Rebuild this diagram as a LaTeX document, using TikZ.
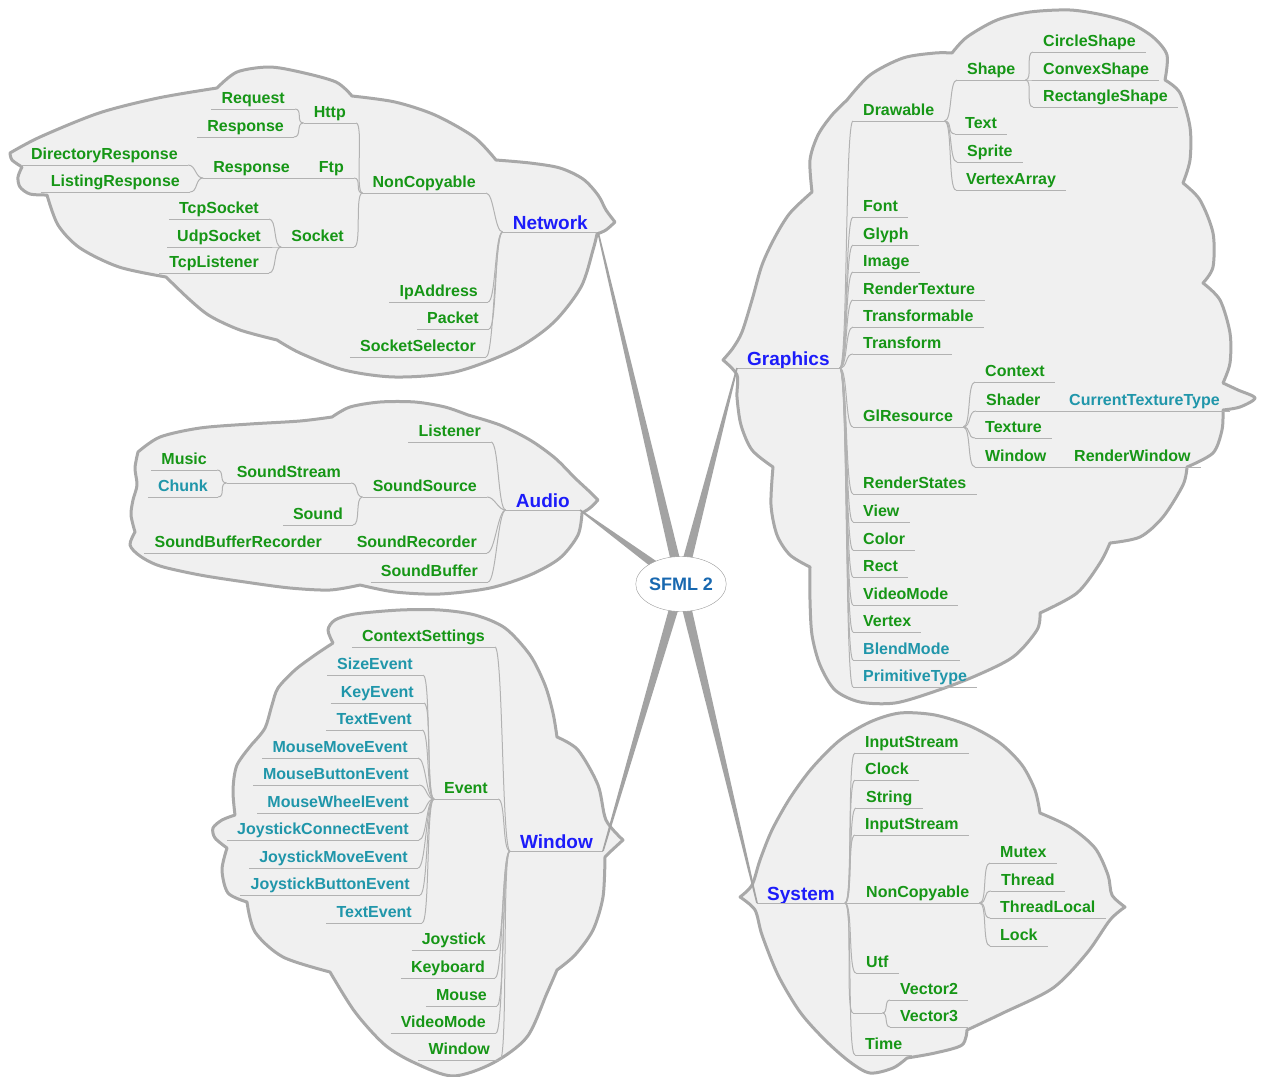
\documentclass[tikz,border=0pt]{standalone}
\usepackage{fontspec}
\setmainfont{Liberation Sans}
\usetikzlibrary{calc,shapes.geometric}

\definecolor{leafgreen}{RGB}{22,150,22}
\definecolor{leafteal}{RGB}{32,150,170}
\definecolor{headblue}{RGB}{28,28,250}
\definecolor{rootblue}{RGB}{24,104,176}
\definecolor{cloudfill}{RGB}{240,240,240}
\definecolor{cloudline}{RGB}{168,168,168}
\definecolor{linkgray}{RGB}{178,178,178}

\tikzset{
  cloud/.style={fill=cloudfill, draw=cloudline, line width=3pt, line join=round},
  link/.style={draw=linkgray, line width=1pt},
  spoke/.style={fill=black!36},
  leaf/.style={text=leafgreen, font=\bfseries\fontsize{16}{18}\selectfont,
    inner xsep=10pt, inner ysep=2pt, text height=11pt, text depth=3pt,
    append after command={(\tikzlastnode.south west) edge[link] (\tikzlastnode.south east)}},
  evt/.style={leaf, text=leafteal},
  head/.style={leaf, text=headblue, font=\bfseries\fontsize{19}{22}\selectfont,
    text height=14pt, text depth=0pt},
  lft/.style={anchor=south east},
  rgt/.style={anchor=south west},
}

\begin{document}
\begin{tikzpicture}[x=1pt,y=-1pt]
\useasboundingbox (0,0) rectangle (1262,1077);

% clouds
\filldraw[cloud] plot[smooth] coordinates {(10,153) (40,137) (99,113) (158,98) (217,88)}
  -- plot[smooth] coordinates {(217,88) (237,72) (269,67) (300,72) (336,82) (352,96)}
  -- plot[smooth] coordinates {(352,96) (395,102) (435,115) (474,137) (496,160)}
  -- plot[smooth] coordinates {(496,160) (530,163) (560,168) (583,179) (598,195) (606,210) (615,222)}
  -- plot[smooth] coordinates {(615,222) (606,230) (597,234)}
  -- plot[smooth] coordinates {(597,234) (593,250) (581,287) (553,323) (514,350) (455,372) (395,377) (344,370) (300,353) (277,340)}
  -- plot[smooth] coordinates {(277,340) (240,330) (210,316) (190,300) (166,277)}
  -- plot[smooth] coordinates {(166,277) (119,267) (80,248) (58,225) (47,195)}
  -- plot[smooth] coordinates {(47,195) (30,194) (20,187) (18,177) (22,167)}
  -- plot[smooth] coordinates {(22,167) (12,160) (10,153)} -- cycle;
\filldraw[cloud] plot[smooth] coordinates {(138,452) (160,437) (200,428) (250,424) (300,421) (332,417)}
  -- plot[smooth] coordinates {(332,417) (350,407) (380,402) (415,402) (445,407) (468,415)}
  -- plot[smooth] coordinates {(468,415) (500,425) (530,440) (555,458) (575,478) (590,492) (598,500)}
  -- plot[smooth] coordinates {(598,500) (590,508) (582,513)}
  -- plot[smooth] coordinates {(582,513) (578,535) (560,558) (530,575) (490,588) (440,594) (395,592) (360,585)}
  -- plot[smooth] coordinates {(360,585) (330,590) (290,588) (245,582) (200,575) (160,566) (140,556) (130,545) (135,532)}
  -- plot[smooth] coordinates {(135,532) (131,515) (133,500) (137,485) (135,468) (138,452)} -- cycle;
\filldraw[cloud] plot[smooth] coordinates {(333,643) (328,630) (335,620) (355,614) (400,610) (440,610) (475,615) (505,628) (530,655) (545,685) (553,713) (557,737)}
  -- plot[smooth] coordinates {(557,737) (578,750) (598,785) (606,820) (623,840)}
  -- plot[smooth] coordinates {(623,840) (610,852) (605,857)}
  -- plot[smooth] coordinates {(605,857) (603,897) (593,930) (575,955) (557,970)}
  -- plot[smooth] coordinates {(557,970) (547,993) (527,1037) (493,1063) (453,1076) (415,1063) (385,1045) (355,1012) (330,972)}
  -- plot[smooth] coordinates {(330,972) (283,957) (255,932) (247,902)}
  -- plot[smooth] coordinates {(247,902) (228,893) (222,870) (227,848)}
  -- plot[smooth] coordinates {(227,848) (215,838) (213,828) (222,820) (235,815)}
  -- plot[smooth] coordinates {(235,815) (233,790) (237,765) (253,743)}
  -- plot[smooth] coordinates {(253,743) (265,728) (272,705) (278,688) (295,670) (315,655) (333,643)} -- cycle;
\filldraw[cloud] plot[smooth] coordinates {(723,360) (733,348) (742,332) (752,300) (762,265) (775,237) (790,213) (812,192)}
  -- plot[smooth] coordinates {(812,192) (810,160) (818,135) (832,115) (847,100)}
  -- plot[smooth] coordinates {(847,100) (870,75) (903,58) (935,53) (952,53)}
  -- plot[smooth] coordinates {(952,53) (967,37) (997,20) (1030,12) (1070,10) (1103,15) (1130,23) (1153,37) (1167,55) (1165,80)}
  -- plot[smooth] coordinates {(1165,80) (1180,93) (1190,127) (1190,160) (1183,183)}
  -- plot[smooth] coordinates {(1183,183) (1200,200) (1213,233) (1213,267) (1203,283)}
  -- plot[smooth] coordinates {(1203,283) (1220,300) (1230,333) (1230,363) (1223,383)}
  -- plot[smooth] coordinates {(1223,383) (1238,390) (1255,398) (1240,407) (1223,410)}
  -- plot[smooth] coordinates {(1223,410) (1222,430) (1213,453) (1187,467)}
  -- plot[smooth] coordinates {(1187,467) (1183,485) (1163,517) (1140,537) (1110,543)}
  -- plot[smooth] coordinates {(1110,543) (1100,563) (1077,593) (1040,613)}
  -- plot[smooth] coordinates {(1040,613) (1037,630) (1013,657) (973,677) (933,692) (895,703) (860,702) (835,690) (820,665) (812,635) (810,600) (810,567)}
  -- plot[smooth] coordinates {(810,567) (790,555) (777,535) (771,505) (773,467)}
  -- plot[smooth] coordinates {(773,467) (752,450) (741,425) (737,397) (737,375) (723,360)} -- cycle;
\filldraw[cloud] plot[smooth] coordinates {(740,897) (752,885) (760,860) (772,830) (790,798) (812,768) (840,740) (870,722) (900,713) (935,715) (970,726) (1000,743) (1022,765) (1035,790) (1040,813)}
  -- plot[smooth] coordinates {(1040,813) (1070,827) (1095,848) (1108,875) (1112,895) (1125,907)}
  -- plot[smooth] coordinates {(1125,907) (1110,920) (1087,953) (1053,988) (1003,1013) (967,1030)}
  -- plot[smooth] coordinates {(967,1030) (962,1045) (935,1053) (907,1058)}
  -- plot[smooth] coordinates {(907,1058) (893,1068) (870,1073) (850,1062) (825,1040) (800,1012) (778,975) (762,935) (755,910) (740,897)} -- cycle;

% Network
\node[head,lft] (net) at (598,232) {Network};
\node[leaf,lft] (netnc) at (486,193) {NonCopyable};
\node[leaf,lft] (http) at (356,123) {Http};
\node[leaf,lft] (httpreq) at (295,109) {Request};
\node[leaf,lft] (httpresp) at (294,137) {Response};
\node[leaf,lft] (ftp) at (354,178) {Ftp};
\node[leaf,lft] (ftpresp) at (300,178) {Response};
\node[leaf,lft] (ftpdir) at (188,165) {DirectoryResponse};
\node[leaf,lft] (ftplist) at (190,192) {ListingResponse};
\node[leaf,lft] (sock) at (354,247) {Socket};
\node[leaf,lft] (tcpsock) at (269,219) {TcpSocket};
\node[leaf,lft] (udpsock) at (271,247) {UdpSocket};
\node[leaf,lft] (tcplist) at (269,273) {TcpListener};
\node[leaf,lft] (ipaddr) at (488,302) {IpAddress};
\node[leaf,lft] (packet) at (489,329) {Packet};
\node[leaf,lft] (socksel) at (486,357) {SocketSelector};

% Audio
\node[head,lft] (aud) at (580,510) {Audio};
\node[leaf,lft] (listener) at (491,442) {Listener};
\node[leaf,lft] (sndsrc) at (487,497) {SoundSource};
\node[leaf,lft] (sndstream) at (351,483) {SoundStream};
\node[leaf,lft] (music) at (217,470) {Music};
\node[evt,lft] (chunk) at (218,497) {Chunk};
\node[leaf,lft] (sound) at (353,525) {Sound};
\node[leaf,lft] (sndrec) at (487,553) {SoundRecorder};
\node[leaf,lft] (sndbufrec) at (332,553) {SoundBufferRecorder};
\node[leaf,lft] (sndbuf) at (488,582) {SoundBuffer};

% Window
\node[head,lft] (win) at (603,851) {Window};
\node[leaf,lft] (ctxset) at (495,647) {ContextSettings};
\node[leaf,lft] (event) at (498,799) {Event};
\node[evt,lft] (sizeev) at (423,675) {SizeEvent};
\node[evt,lft] (keyev) at (424,703) {KeyEvent};
\node[evt,lft] (textev) at (422,730) {TextEvent};
\node[evt,lft] (mmoveev) at (418,758) {MouseMoveEvent};
\node[evt,lft] (mbtnev) at (419,785) {MouseButtonEvent};
\node[evt,lft] (mwheelev) at (419,813) {MouseWheelEvent};
\node[evt,lft] (jconnev) at (419,840) {JoystickConnectEvent};
\node[evt,lft] (jmoveev) at (418,868) {JoystickMoveEvent};
\node[evt,lft] (jbtnev) at (420,895) {JoystickButtonEvent};
\node[evt,lft] (textevb) at (422,923) {TextEvent};
\node[leaf,lft] (joystick) at (496,950) {Joystick};
\node[leaf,lft] (keyboard) at (495,978) {Keyboard};
\node[leaf,lft] (mouse) at (497,1006) {Mouse};
\node[leaf,lft] (wvidmode) at (496,1033) {VideoMode};
\node[leaf,lft] (wwindow) at (500,1060) {Window};

% Graphics
\node[head,rgt] (gfx) at (737,368) {Graphics};
\node[leaf,rgt] (drawable) at (853,121) {Drawable};
\node[leaf,rgt] (shape) at (957,80) {Shape};
\node[leaf,rgt] (circle) at (1033,52) {CircleShape};
\node[leaf,rgt] (convex) at (1033,80) {ConvexShape};
\node[leaf,rgt] (rectangle) at (1033,107) {RectangleShape};
\node[leaf,rgt] (text) at (955,134) {Text};
\node[leaf,rgt] (sprite) at (957,162) {Sprite};
\node[leaf,rgt] (vertarr) at (956,190) {VertexArray};
\node[leaf,rgt] (font) at (853,217) {Font};
\node[leaf,rgt] (glyph) at (853,245) {Glyph};
\node[leaf,rgt] (image) at (853,272) {Image};
\node[leaf,rgt] (rendtex) at (853,300) {RenderTexture};
\node[leaf,rgt] (transfable) at (853,327) {Transformable};
\node[leaf,rgt] (transf) at (853,354) {Transform};
\node[leaf,rgt] (glres) at (853,427) {GlResource};
\node[leaf,rgt] (context) at (975,382) {Context};
\node[leaf,rgt] (shader) at (976,411) {Shader};
\node[evt,rgt] (curtex) at (1059,411) {CurrentTextureType};
\node[leaf,rgt] (texture) at (975,438) {Texture};
\node[leaf,rgt] (gwindow) at (975,467) {Window};
\node[leaf,rgt] (rendwin) at (1064,467) {RenderWindow};
\node[leaf,rgt] (rendstates) at (853,494) {RenderStates};
\node[leaf,rgt] (view) at (853,522) {View};
\node[leaf,rgt] (color) at (853,550) {Color};
\node[leaf,rgt] (rect) at (853,577) {Rect};
\node[leaf,rgt] (gvidmode) at (853,605) {VideoMode};
\node[leaf,rgt] (vertex) at (853,632) {Vertex};
\node[evt,rgt] (blend) at (853,660) {BlendMode};
\node[evt,rgt] (primtype) at (853,687) {PrimitiveType};

% System
\node[head,rgt] (sys) at (757,903) {System};
\node[leaf,rgt] (instream) at (855,753) {InputStream};
\node[leaf,rgt] (clock) at (855,780) {Clock};
\node[leaf,rgt] (string) at (856,808) {String};
\node[leaf,rgt] (instreamb) at (855,835) {InputStream};
\node[leaf,rgt] (sysnc) at (856,903) {NonCopyable};
\node[leaf,rgt] (mutex) at (990,863) {Mutex};
\node[leaf,rgt] (thread) at (991,891) {Thread};
\node[leaf,rgt] (thrlocal) at (990,918) {ThreadLocal};
\node[leaf,rgt] (lock) at (990,946) {Lock};
\node[leaf,rgt] (utf) at (856,973) {Utf};
\node[leaf,rgt,minimum width=29pt,inner xsep=0pt] (vec) at (853,1013) {};
\node[leaf,rgt] (vectwo) at (890,1000) {Vector2};
\node[leaf,rgt] (vecthree) at (890,1027) {Vector3};
\node[leaf,rgt] (time) at (855,1055) {Time};

% connectors, left side
\foreach \c in {netnc,ipaddr,packet,socksel}
  \draw[link] (net.south west) .. controls +(-8,0) and +(8,0) .. (\c.south east);
\foreach \c in {http,ftp,sock}
  \draw[link] (netnc.south west) .. controls +(-8,0) and +(8,0) .. (\c.south east);
\foreach \c in {httpreq,httpresp}
  \draw[link] (http.south west) .. controls +(-8,0) and +(8,0) .. (\c.south east);
\draw[link] (ftp.south west) -- (ftpresp.south east);
\foreach \c in {ftpdir,ftplist}
  \draw[link] (ftpresp.south west) .. controls +(-8,0) and +(8,0) .. (\c.south east);
\foreach \c in {tcpsock,udpsock,tcplist}
  \draw[link] (sock.south west) .. controls +(-8,0) and +(8,0) .. (\c.south east);
\foreach \c in {listener,sndsrc,sndrec,sndbuf}
  \draw[link] (aud.south west) .. controls +(-8,0) and +(8,0) .. (\c.south east);
\foreach \c in {sndstream,sound}
  \draw[link] (sndsrc.south west) .. controls +(-8,0) and +(8,0) .. (\c.south east);
\foreach \c in {music,chunk}
  \draw[link] (sndstream.south west) .. controls +(-8,0) and +(8,0) .. (\c.south east);
\draw[link] (sndrec.south west) -- (sndbufrec.south east);
\foreach \c in {ctxset,event,joystick,keyboard,mouse,wvidmode,wwindow}
  \draw[link] (win.south west) .. controls +(-8,0) and +(8,0) .. (\c.south east);
\foreach \c in {sizeev,keyev,textev,mmoveev,mbtnev,mwheelev,jconnev,jmoveev,jbtnev,textevb}
  \draw[link] (event.south west) .. controls +(-8,0) and +(8,0) .. (\c.south east);

% connectors, right side
\foreach \c in {drawable,font,glyph,image,rendtex,transfable,transf,glres,rendstates,view,color,rect,gvidmode,vertex,blend,primtype}
  \draw[link] (gfx.south east) .. controls +(8,0) and +(-8,0) .. (\c.south west);
\foreach \c in {shape,text,sprite,vertarr}
  \draw[link] (drawable.south east) .. controls +(8,0) and +(-8,0) .. (\c.south west);
\foreach \c in {circle,convex,rectangle}
  \draw[link] (shape.south east) .. controls +(8,0) and +(-8,0) .. (\c.south west);
\foreach \c in {context,shader,texture,gwindow}
  \draw[link] (glres.south east) .. controls +(8,0) and +(-8,0) .. (\c.south west);
\draw[link] (shader.south east) -- (curtex.south west);
\draw[link] (gwindow.south east) -- (rendwin.south west);
\foreach \c in {instream,clock,string,instreamb,sysnc,utf,vec,time}
  \draw[link] (sys.south east) .. controls +(8,0) and +(-8,0) .. (\c.south west);
\foreach \c in {mutex,thread,thrlocal,lock}
  \draw[link] (sysnc.south east) .. controls +(8,0) and +(-8,0) .. (\c.south west);
\foreach \c in {vectwo,vecthree}
  \draw[link] (vec.south east) .. controls +(6,0) and +(-6,0) .. (\c.south west);

% spokes from the root
\coordinate (root) at (681,584);
\foreach \e in {net.south east,aud.south east,win.south east,gfx.south west,sys.south west}
  \fill[spoke] ($(root)!5pt!90:(\e)$) -- ($(\e)!0.8pt!-90:(root)$)
    -- ($(\e)!0.8pt!90:(root)$) -- ($(root)!5pt!-90:(\e)$) -- cycle;
\node[ellipse, draw=black!40, fill=white, minimum width=88pt, minimum height=55pt,
  inner sep=0pt, text=rootblue, font=\bfseries\fontsize{18}{20}\selectfont] (sfml) at (root) {SFML 2};
\end{tikzpicture}
\end{document}
